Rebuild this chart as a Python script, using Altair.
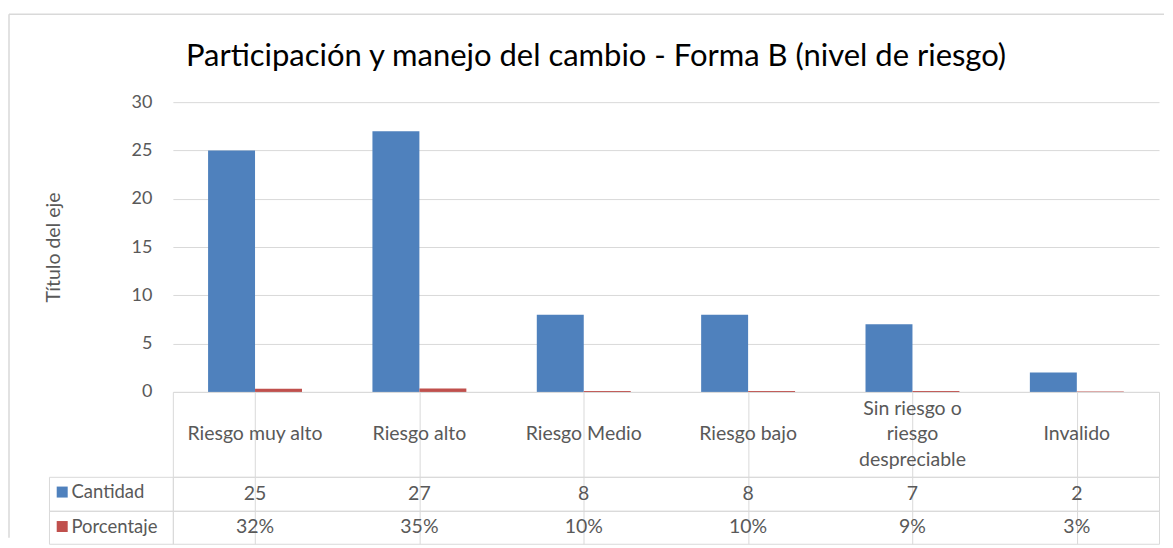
import altair as alt
import pandas as pd

# ---- data ----
categories = ["Riesgo muy alto", "Riesgo alto", "Riesgo Medio", "Riesgo bajo",
              "Sin riesgo o\nriesgo\ndespreciable", "Invalido"]
cantidad = [25, 27, 8, 8, 7, 2]
porcentaje = [0.32, 0.35, 0.10, 0.10, 0.09, 0.03]
series = ["Cantidad", "Porcentaje"]
y_ticks = [0, 5, 10, 15, 20, 25, 30]
title_text = "Participación y manejo del cambio - Forma B (nivel de riesgo)"
y_title = "Título del eje"

# ---- styling ----
FONT = "Lato"
BLUE = "#4F81BD"
RED = "#C0504D"
GRID = "#d9d9d9"
FRAME = "#d9d9d9"
TEXT = "#595959"
LEG_W = 124
PLOT_W = 987
BAR_H = 290
LAB_H = 85
ROW_H = 34
LINE_H = 25.5
TXT = 19.5

long_df = pd.DataFrame({
    "category": categories * 2,
    "series": [series[0]] * len(categories) + [series[1]] * len(categories),
    "value": cantidad + porcentaje,
})
wide_df = pd.DataFrame({"category": categories, "cantidad": cantidad, "porcentaje": porcentaje})

# category labels split into lines, each line centred around the row middle
line_rows = []
for c in categories:
    parts = c.split("\n")
    for i, p in enumerate(parts):
        line_rows.append({"category": c, "line": p, "pos": i - (len(parts) - 1) / 2})
lines_df = pd.DataFrame(line_rows)

x_scale = alt.Scale(domain=categories, paddingInner=0, paddingOuter=0)
grid_axis = alt.Axis(grid=True, gridColor=GRID, gridWidth=1, bandPosition=0,
                     labels=False, ticks=False, domain=False, title=None)

bars = alt.Chart(long_df).mark_bar().encode(
    x=alt.X("category:N", sort=categories, scale=x_scale, axis=None),
    xOffset=alt.XOffset("series:N", sort=series,
                        scale=alt.Scale(domain=series, paddingOuter=0.75, paddingInner=0)),
    y=alt.Y("value:Q", scale=alt.Scale(domain=[0, 30], nice=False),
            axis=alt.Axis(values=y_ticks, grid=True, gridColor=GRID, gridWidth=1,
                          ticks=False, domain=False, labelFont=FONT, labelFontSize=18,
                          labelColor=TEXT, labelPadding=21, title=y_title,
                          titleFont=FONT, titleFontSize=TXT, titleFontWeight="normal",
                          titleColor=TEXT, titlePadding=68)),
    color=alt.Color("series:N", scale=alt.Scale(domain=series, range=[BLUE, RED]),
                    legend=alt.Legend(orient="none", legendX=4, legendY=381, title=None,
                                      symbolType="square", symbolSize=121,
                                      symbolStrokeWidth=0, labelFont=FONT,
                                      labelFontSize=18.5, labelColor=TEXT,
                                      labelOffset=0, rowPadding=15.5, padding=0)),
).properties(
    width=PLOT_W, height=BAR_H, view=alt.ViewBackground(strokeOpacity=0),
    title=alt.TitleParams(title_text, font=FONT, fontSize=31, fontWeight="normal",
                          color="#000000", anchor="middle", offset=20, dx=-70),
)


def spacer(h, stroke=False):
    return alt.Chart(pd.DataFrame({"k": [0]})).mark_point(opacity=0).properties(
        width=LEG_W, height=h,
        view=alt.ViewBackground(stroke=GRID, strokeOpacity=1 if stroke else 0))


# light outer frame of the chart area (top and left edges, as in the reference)
frame_left = alt.Chart(pd.DataFrame({"k": [0]})).mark_rule(color=FRAME, strokeWidth=1.5).encode(
    x=alt.value(-40), y=alt.value(-88), y2=alt.value(436))
frame_top = alt.Chart(pd.DataFrame({"k": [0]})).mark_rule(color=FRAME, strokeWidth=1.5).encode(
    x=alt.value(-40), x2=alt.value(1116), y=alt.value(-88))
corner = alt.layer(spacer(BAR_H), frame_left, frame_top).properties(
    width=LEG_W, height=BAR_H, view=alt.ViewBackground(strokeOpacity=0))


def row(text_enc, h):
    return alt.Chart(wide_df).mark_text(
        font=FONT, fontSize=TXT, color=TEXT, baseline="middle", align="center"
    ).encode(
        x=alt.X("category:N", sort=categories, scale=x_scale, axis=grid_axis),
        text=text_enc,
    ).properties(width=PLOT_W, height=h, view=alt.ViewBackground(stroke=GRID))


half = LAB_H / 2 / LINE_H
label_row = alt.Chart(lines_df).mark_text(
    font=FONT, fontSize=TXT, color=TEXT, baseline="middle", align="center"
).encode(
    x=alt.X("category:N", sort=categories, scale=x_scale, axis=grid_axis),
    y=alt.Y("pos:Q", scale=alt.Scale(domain=[-half, half], reverse=True, nice=False), axis=None),
    text=alt.Text("line:N"),
).properties(width=PLOT_W, height=LAB_H, view=alt.ViewBackground(stroke=GRID))

cant_row = row(alt.Text("cantidad:Q", format="d"), ROW_H)
pct_row = row(alt.Text("porcentaje:Q", format=".0%"), ROW_H - 1)

chart = alt.concat(
    corner, bars,
    spacer(LAB_H), label_row,
    spacer(ROW_H, True), cant_row,
    spacer(ROW_H - 1, True), pct_row,
    columns=2, spacing=0, bounds="flush",
).properties(
    padding={"left": 0, "top": 5, "right": 0, "bottom": 0},
).configure_view(stroke=GRID, strokeWidth=1).configure(background="white")

chart.save("out.html", embed_options={"renderer": "svg", "actions": False})
